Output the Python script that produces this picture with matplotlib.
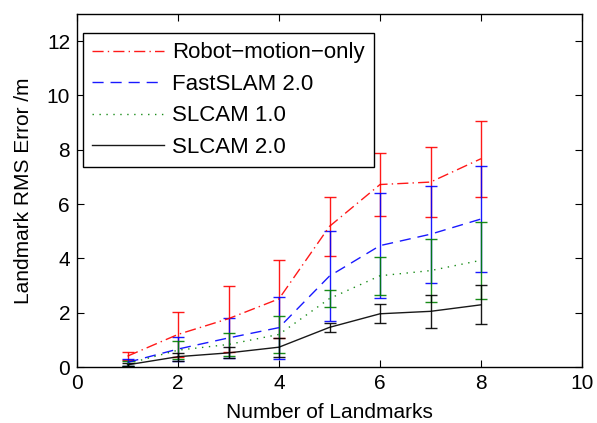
import matplotlib
matplotlib.use("Agg")
import matplotlib.pyplot as plt

plt.rcParams['font.family'] = ['Liberation Sans', 'DejaVu Sans']

landmarks = [1, 2, 3, 4, 5, 6, 7, 8]

robot_mean = [0.40, 1.20, 1.78, 2.51, 5.18, 6.72, 6.81, 7.67]
robot_err = [0.16, 0.84, 1.22, 1.43, 1.09, 1.17, 1.30, 1.40]

fast_mean = [0.17, 0.66, 1.07, 1.45, 3.35, 4.47, 4.89, 5.45]
fast_err = [0.12, 0.43, 0.75, 1.14, 1.66, 1.93, 1.78, 1.94]

slcam1_mean = [0.12, 0.62, 0.83, 1.20, 2.52, 3.36, 3.55, 3.93]
slcam1_err = [0.10, 0.34, 0.43, 0.68, 0.30, 0.70, 1.17, 1.41]

slcam2_mean = [0.08, 0.38, 0.52, 0.73, 1.46, 1.96, 2.05, 2.29]
slcam2_err = [0.06, 0.15, 0.20, 0.35, 0.17, 0.35, 0.60, 0.72]

labels = ["Robot\u2212motion\u2212only", "FastSLAM 2.0", "SLCAM 1.0", "SLCAM 2.0"]

FS = 15
LFS = 16

fig = plt.figure(figsize=(5.97, 4.23), dpi=100)
ax = fig.add_axes([77/597, 1-367/423, 505/597, 353/423])

series = [
    (robot_mean, robot_err, 'red', (0, (8, 3, 1, 3))),
    (fast_mean, fast_err, 'blue', (0, (8, 5))),
    (slcam1_mean, slcam1_err, '#008000', (0, (1, 4))),
    (slcam2_mean, slcam2_err, 'black', '-'),
]
handles = []
for (m, e, c, ls), lab in zip(series, labels):
    h = ax.errorbar(landmarks, m, yerr=e, color=c, ecolor=c, elinewidth=1.0,
                    capsize=4.5, capthick=1.0, linewidth=1.0, linestyle=ls,
                    label=lab, alpha=0.9)
    handles.append(h[0])

ax.set_xlim(0, 10)
ax.set_ylim(0, 13)
ax.set_xticks([0, 2, 4, 6, 8, 10])
ax.set_yticks([0, 2, 4, 6, 8, 10, 12])
ax.tick_params(direction='in', top=True, right=True, labelsize=FS, length=5, width=0.8, pad=5)
for s in ax.spines.values():
    s.set_linewidth(1.0)

ax.set_xlabel("Number of Landmarks", fontsize=FS, labelpad=7)
ax.set_ylabel("Landmark RMS Error /m", fontsize=FS, labelpad=10)

leg = ax.legend(handles, labels, loc='upper left', bbox_to_anchor=(0.012, 0.946),
                fontsize=LFS, fancybox=False, framealpha=1, edgecolor='black',
                handlelength=3.2, handletextpad=0.4, labelspacing=0.47,
                borderpad=0.42, borderaxespad=0)
leg.get_frame().set_linewidth(1.0)

fig.savefig("out.png", dpi=100)
